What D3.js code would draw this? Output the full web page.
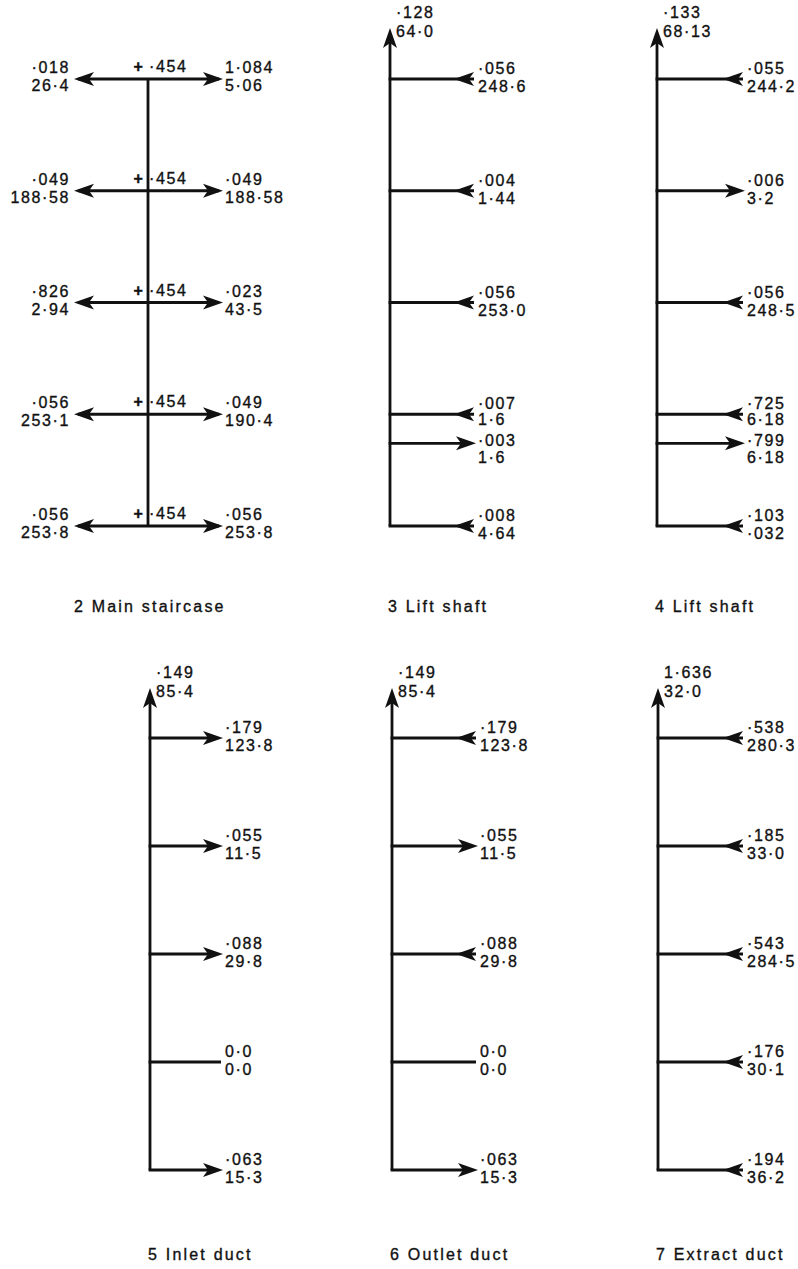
<!DOCTYPE html>
<html lang="en">
<head>
  <meta charset="UTF-8">
  <title>Stack effect flow diagrams</title>
  <script src="https://d3js.org/d3.v7.min.js"></script>
  <style>
    body {
      margin: 0;
      background: #fff;
    }
    svg text {
      font-family: "Liberation Sans", Arial, sans-serif;
      fill: #111;
      stroke: #111;
      stroke-width: 0.35px;
    }
    .num {
      font-size: 16px;
      letter-spacing: 1.6px;
    }
    .caption {
      font-size: 16px;
      letter-spacing: 2.2px;
    }
    .flow {
      stroke: #111;
      stroke-width: 2.8;
      fill: none;
    }
    .head {
      fill: #111;
      stroke: none;
    }
  </style>
</head>
<body>
  <svg id="chart" width="798" height="1269"></svg>

  <script>
    // ---- data ----
    const captions = ["2 Main staircase", "3 Lift shaft", "4 Lift shaft", "5 Inlet duct", "6 Outlet duct", "7 Extract duct"];

    // main staircase: one row per floor, flows out to both sides
    const stairLevels = [4, 3, 2, 1, 0];
    const stairCentre = ["·454", "·454", "·454", "·454", "·454"];
    const stairLeftFlow = ["·018", "·049", "·826", "·056", "·056"];
    const stairLeftPress = ["26·4", "188·58", "2·94", "253·1", "253·8"];
    const stairRightFlow = ["1·084", "·049", "·023", "·049", "·056"];
    const stairRightPress = ["5·06", "188·58", "43·5", "190·4", "253·8"];

    // lift shafts (extra branch just above ground level)
    const liftLevels = [4, 3, 2, 1, 0.74, 0];
    const lift3Flow = ["·056", "·004", "·056", "·007", "·003", "·008"];
    const lift3Press = ["248·6", "1·44", "253·0", "1·6", "1·6", "4·64"];
    const lift3Dir = ["in", "in", "in", "in", "out", "in"];
    const lift3Top = ["·128", "64·0"];

    const lift4Flow = ["·055", "·006", "·056", "·725", "·799", "·103"];
    const lift4Press = ["244·2", "3·2", "248·5", "6·18", "6·18", "·032"];
    const lift4Dir = ["in", "out", "in", "in", "out", "in"];
    const lift4Top = ["·133", "68·13"];

    // ducts
    const ductLevels = [4, 3, 2, 1, 0];
    const inletFlow = ["·179", "·055", "·088", "0·0", "·063"];
    const inletPress = ["123·8", "11·5", "29·8", "0·0", "15·3"];
    const inletDir = ["out", "out", "out", "none", "out"];
    const inletTop = ["·149", "85·4"];

    const outletFlow = ["·179", "·055", "·088", "0·0", "·063"];
    const outletPress = ["123·8", "11·5", "29·8", "0·0", "15·3"];
    const outletDir = ["in", "out", "in", "none", "out"];
    const outletTop = ["·149", "85·4"];

    const extractFlow = ["·538", "·185", "·543", "·176", "·194"];
    const extractPress = ["280·3", "33·0", "284·5", "30·1", "36·2"];
    const extractDir = ["in", "in", "in", "in", "in"];
    const extractTop = ["1·636", "32·0"];

    // ---- layout ----
    const topRow = { top: 79, bottom: 526, tip: 28, caption: 612 };
    const bottomRow = { top: 738, bottom: 1170, tip: 688, caption: 1260 };

    const svg = d3.select("#chart");
    svg.append("rect").attr("width", 798).attr("height", 1269).attr("fill", "#fff");

    const headPath = "M0,0 L-20,-7 L-15,0 L-20,7 Z";

    function arrowHead(g, x, y, angle) {
      g.append("path")
        .attr("class", "head")
        .attr("d", headPath)
        .attr("transform", `translate(${x},${y}) rotate(${angle})`);
    }

    function twoLines(g, x, y, a, b, anchor, gap) {
      const t = g.append("text").attr("class", "num").attr("text-anchor", anchor || "start");
      t.append("tspan").attr("x", x).attr("y", y - 5).text(a);
      t.append("tspan").attr("x", x).attr("y", y + (gap || 18) - 5).text(b);
    }

    // staircase
    (function () {
      const cx = 148;
      const y = d3.scaleLinear().domain([0, 4]).range([topRow.bottom, topRow.top]);
      const g = svg.append("g");
      g.append("line").attr("class", "flow")
        .attr("x1", cx).attr("x2", cx)
        .attr("y1", y(d3.min(stairLevels))).attr("y2", y(d3.max(stairLevels)));

      stairLevels.forEach((lv, i) => {
        const yy = y(lv);
        g.append("line").attr("class", "flow")
          .attr("x1", cx - 70).attr("x2", cx + 71).attr("y1", yy).attr("y2", yy);
        arrowHead(g, cx - 74, yy, 180);
        arrowHead(g, cx + 75, yy, 0);
        g.append("text").attr("class", "num")
          .attr("x", cx - 9).attr("y", yy - 7).attr("text-anchor", "middle")
          .style("font-weight", "bold").text("+");
        g.append("text").attr("class", "num")
          .attr("x", cx + 1).attr("y", yy - 7).text(stairCentre[i]);
        twoLines(g, cx - 78, yy - 1, stairLeftFlow[i], stairLeftPress[i], "end");
        twoLines(g, cx + 77, yy - 1, stairRightFlow[i], stairRightPress[i]);
      });

      g.append("text").attr("class", "caption")
        .attr("x", 74).attr("y", topRow.caption).text(captions[0]);
    })();

    function branchPanel(cx, row, reach, levels, flows, press, dirs, topVals, caption) {
      const y = d3.scaleLinear().domain([0, 4]).range([row.bottom, row.top]);
      const g = svg.append("g");
      const end = cx + reach;

      // trunk with outlet arrow at the top
      g.append("line").attr("class", "flow")
        .attr("x1", cx).attr("x2", cx)
        .attr("y1", y(d3.min(levels))).attr("y2", row.tip + 12);
      arrowHead(g, cx, row.tip, -90);
      const t = g.append("text").attr("class", "num");
      t.append("tspan").attr("x", cx + 6).attr("y", row.tip - 10).text(topVals[0]);
      t.append("tspan").attr("x", cx + 6).attr("y", row.tip + 9).text(topVals[1]);

      levels.forEach((lv, i) => {
        const yy = y(lv);
        const dir = dirs[i];
        g.append("line").attr("class", "flow")
          .attr("x1", cx - 1.4).attr("x2", dir === "out" ? end - 4 : end + 1)
          .attr("y1", yy).attr("y2", yy);
        if (dir === "in") arrowHead(g, end - 19, yy, 180);
        if (dir === "out") arrowHead(g, end + 3, yy, 0);

        // crowded pair of branches: nudge labels apart
        const prev = i > 0 ? y(levels[i - 1]) : -Infinity;
        const next = i < levels.length - 1 ? y(levels[i + 1]) : Infinity;
        let shift = 0, gap = 18;
        if (yy - prev < 40) { shift = 8; gap = 17; }
        if (next - yy < 40) { gap = 16; }
        twoLines(g, end + 5, yy + shift, flows[i], press[i], "start", gap);
      });

      g.append("text").attr("class", "caption")
        .attr("x", cx - 2).attr("y", row.caption).text(caption);
    }

    branchPanel(390, topRow, 83, liftLevels, lift3Flow, lift3Press, lift3Dir, lift3Top, captions[1]);
    branchPanel(657, topRow, 85, liftLevels, lift4Flow, lift4Press, lift4Dir, lift4Top, captions[2]);
    branchPanel(150, bottomRow, 70, ductLevels, inletFlow, inletPress, inletDir, inletTop, captions[3]);
    branchPanel(392, bottomRow, 83, ductLevels, outletFlow, outletPress, outletDir, outletTop, captions[4]);
    branchPanel(658, bottomRow, 84, ductLevels, extractFlow, extractPress, extractDir, extractTop, captions[5]);
  </script>
</body>
</html>
